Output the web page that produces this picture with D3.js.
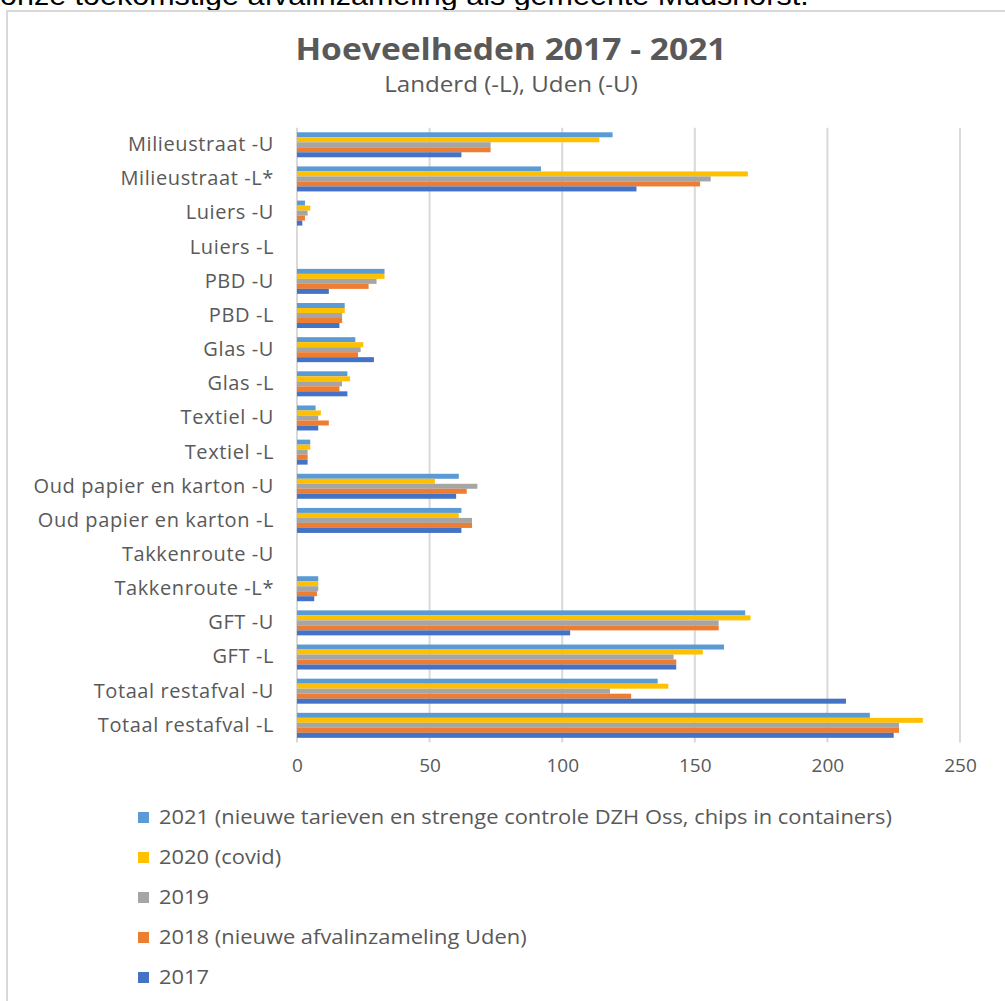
<!DOCTYPE html>
<html>
<head>
<meta charset="utf-8">
<script src="https://cdn.jsdelivr.net/npm/d3@7"></script>
<style>
  html, body { margin: 0; padding: 0; background: #fff; overflow: hidden; }
  svg { display: block; }
</style>
</head>
<body>
<svg id="chart" width="1005" height="1001"></svg>
<script>
// ---- data ----
const categories = [
  "Milieustraat -U", "Milieustraat -L*", "Luiers -U", "Luiers -L",
  "PBD  -U", "PBD -L", "Glas  -U", "Glas -L", "Textiel -U", "Textiel -L",
  "Oud papier en karton -U", "Oud papier en karton -L",
  "Takkenroute -U", "Takkenroute -L*", "GFT -U", "GFT -L",
  "Totaal restafval -U", "Totaal restafval -L"
];
const seriesNames = [
  "2021 (nieuwe tarieven en strenge controle DZH Oss, chips in containers)",
  "2020 (covid)",
  "2019",
  "2018 (nieuwe afvalinzameling Uden)",
  "2017"
];
const values2021 = [119, 92, 3, 0, 33, 18, 22, 19, 7, 5, 61, 62, 0, 8, 169, 161, 136, 216];
const values2020 = [114, 170, 5, 0, 33, 18, 25, 20, 9, 5, 52, 61, 0, 8, 171, 153, 140, 236];
const values2019 = [73, 156, 4, 0, 30, 17, 24, 17, 8, 4, 68, 66, 0, 8, 159, 142, 118, 227];
const values2018 = [73, 152, 3, 0, 27, 17, 23, 16, 12, 4, 64, 66, 0, 7.5, 159, 143, 126, 227];
const values2017 = [62, 128, 2, 0, 12, 16, 29, 19, 8, 4, 60, 62, 0, 6.5, 103, 143, 207, 225];
const seriesValues = [values2021, values2020, values2019, values2018, values2017];
const seriesColors = ["#5B9BD5", "#FFC000", "#A5A5A5", "#ED7D31", "#4472C4"];
const xTicks = [0, 50, 100, 150, 200, 250];
const titleText = "Hoeveelheden 2017 - 2021";
const subtitleText = "Landerd (-L), Uden (-U)";
const pageText = "onze toekomstige afvalinzameling als gemeente Mudshorst.";

// ---- drawing ----
const svg = d3.select("#chart");
const font = "'Open Sans', sans-serif";
const grey = "#595959";

// page text above the chart (cut off at top, as in the source page)
svg.append("g").attr("transform", "translate(0,5) scale(1.13,1)")
  .append("text")
  .attr("x", 0).attr("y", 0)
  .attr("font-family", "'Liberation Sans', Arial, sans-serif")
  .attr("font-size", 27)
  .attr("fill", "#000")
  .text(pageText);

// chart frame
svg.append("rect")
  .attr("x", 7).attr("y", 11)
  .attr("width", 1100).attr("height", 1100)
  .attr("fill", "#fff")
  .attr("stroke", "#d9d9d9").attr("stroke-width", 2);

// title & subtitle
svg.append("g").attr("transform", "translate(511,60) scale(1.12,1)")
  .append("text")
  .attr("text-anchor", "middle")
  .attr("font-family", font).attr("font-weight", "bold")
  .attr("font-size", 30).attr("fill", grey)
  .text(titleText);
svg.append("g").attr("transform", "translate(511,92) scale(1.15,1)")
  .append("text")
  .attr("text-anchor", "middle")
  .attr("font-family", font)
  .attr("font-size", 21).attr("fill", grey)
  .text(subtitleText);

// scales
const x = d3.scaleLinear().domain([0, 250]).range([297, 960]);
const y = d3.scaleBand().domain(categories).range([127.7, 742.4]).padding(0);
const barH = 5;
const groupH = barH * seriesNames.length;

// gridlines
svg.append("g").selectAll("line")
  .data(xTicks).join("line")
  .attr("x1", d => x(d)).attr("x2", d => x(d))
  .attr("y1", y.range()[0]).attr("y2", y.range()[1])
  .attr("stroke", "#d9d9d9").attr("stroke-width", 2);

// bars
const rows = [];
categories.forEach((c, i) => {
  seriesValues.forEach((vals, s) => {
    rows.push({ cat: c, s: s, v: vals[i] });
  });
});
svg.append("g").selectAll("rect")
  .data(rows.filter(d => d.v > 0)).join("rect")
  .attr("x", x(0))
  .attr("y", d => y(d.cat) + y.bandwidth() / 2 - groupH / 2 + d.s * barH)
  .attr("width", d => x(d.v) - x(0))
  .attr("height", barH)
  .attr("fill", d => seriesColors[d.s]);

// y axis labels
const yAxis = d3.axisLeft(y).tickSize(0).tickPadding(0);
const gy = svg.append("g").attr("transform", "translate(274,0)").call(yAxis);
gy.select(".domain").remove();
gy.selectAll("text")
  .attr("font-family", font).attr("font-size", 20)
  .attr("letter-spacing", 0.6)
  .attr("fill", grey);

// x axis labels
const xAxis = d3.axisBottom(x).tickValues(xTicks).tickSize(0).tickPadding(0).tickFormat(d3.format("d"));
const gx = svg.append("g").attr("transform", "translate(0,758)").call(xAxis);
gx.select(".domain").remove();
gx.selectAll("text")
  .attr("font-family", font).attr("font-size", 19)
  .attr("dy", "0.71em")
  .attr("fill", grey);

// legend
const legend = svg.append("g").selectAll("g")
  .data(seriesNames).join("g")
  .attr("transform", (d, i) => `translate(138,${817 + i * 40})`);
legend.append("rect")
  .attr("x", 0).attr("y", -5).attr("width", 11).attr("height", 11)
  .attr("fill", (d, i) => seriesColors[i]);
legend.append("g").attr("transform", "translate(21,0) scale(1.095,1)")
  .append("text")
  .attr("x", 0).attr("y", 0).attr("dy", "0.36em")
  .attr("font-family", font).attr("font-size", 20)
  .attr("fill", grey)
  .text(d => d);
</script>
</body>
</html>
